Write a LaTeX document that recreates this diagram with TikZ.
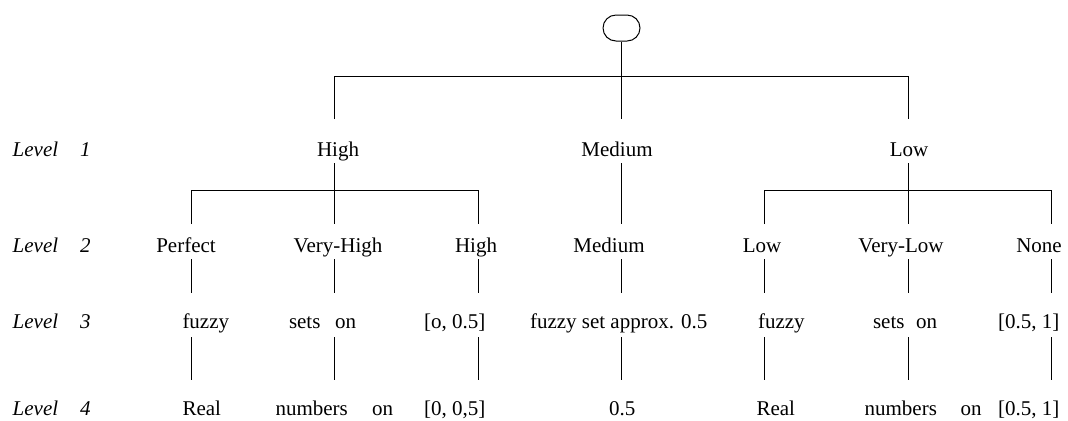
\documentclass[tikz,border=0pt]{standalone}
\usepackage{fontspec}
\setmainfont{Liberation Serif}
\newcommand\fsz{\fontsize{10.5pt}{12pt}\selectfont}
\begin{document}
\begin{tikzpicture}[x=0.5pt,y=-0.5pt,
  conn/.style={line width=0.5pt,draw=black},
  txt/.style={inner sep=0pt,outer sep=0pt,font=\fsz,anchor=base},
  txtw/.style={txt,anchor=base west},
  lvl/.style={inner sep=0pt,outer sep=0pt,font=\fsz\itshape,anchor=base west},
  ra/.style={text height=18.5pt,text depth=3.5pt},
  rb/.style={text height=14pt,text depth=3.5pt},
  rc/.style={text height=17.5pt,text depth=4.5pt},
  rd/.style={text height=17.5pt,text depth=0pt},
  rootbox/.style={draw,line width=0.5pt,rounded corners=6.5pt,minimum width=18.5pt,minimum height=13pt,inner sep=0pt}]
\useasboundingbox (0,0) rectangle (1068,420);
% columns and bars
\coordinate (cP) at (191.5,0);
\coordinate (cH) at (334.5,0);
\coordinate (cHb) at (478,0);
\coordinate (cM) at (621.5,0);
\coordinate (cLb) at (764,0);
\coordinate (cL) at (908,0);
\coordinate (cN) at (1051,0);
\coordinate (bar0) at (0,76);
\coordinate (bar1) at (0,190);
% root
\node[rootbox] (root) at (621.5,28) {};
% level labels
\node[lvl] (lv1) at (12.7,156) {Level\hspace{1.05em}1};
\node[lvl] (lv2) at (12.7,252) {Level\hspace{1.05em}2};
\node[lvl] (lv3) at (12.7,328) {Level\hspace{1.05em}3};
\node[lvl] (lv4) at (12.7,415) {Level\hspace{1.05em}4};
% level 1
\node[txt,ra] (h1) at (338,156) {High};
\node[txt,ra] (m1) at (617,156) {Medium};
\node[txt,ra] (l1) at (909,156) {Low};
% level 2
\node[txt,rb] (p2) at (186,252) {Perfect};
\node[txt,rb] (vh2) at (338,252) {Very-High};
\node[txt,rb] (h2) at (476,252) {High};
\node[txt,rb] (m2) at (609,252) {Medium};
\node[txt,rb] (lo2) at (762,252) {Low};
\node[txt,rb] (vl2) at (901,252) {Very-Low};
\node[txt,rb] (n2) at (1039,252) {None};
% level 3
\node[txtw,rc] (fa3) at (182.5,328) {fuzzy};
\node[txtw,rc] (sa3) at (289,328) {sets\hspace{0.7em}on};
\node[txtw,rc] (ia3) at (424,328) {[o, 0.5]};
\node[txtw,rc] (ap3) at (530,328) {fuzzy set approx. 0.5};
\node[txtw,rc] (fb3) at (758,328) {fuzzy};
\node[txtw,rc] (sb3) at (873,328) {sets\hspace{0.55em}on};
\node[txtw,rc] (ib3) at (998,328) {[0.5, 1]};
% level 4
\node[txtw,rd] (ra4) at (182.5,415) {Real};
\node[txtw,rd] (na4) at (275.5,415) {numbers};
\node[txtw,rd] (oa4) at (372,415) {on};
\node[txtw,rd] (ia4) at (424,415) {[0, 0,5]};
\node[txtw,rd] (hf4) at (609,415) {0.5};
\node[txtw,rd] (rb4) at (756.5,415) {Real};
\node[txtw,rd] (nb4) at (864.6,415) {numbers};
\node[txtw,rd] (ob4) at (960.7,415) {on};
\node[txtw,rd] (ib4) at (998,415) {[0.5, 1]};
% connectors: root to level 1
\draw[conn] (root.south) -- (m1.north -| cM);
\draw[conn] (h1.north -| cH) -- (cH |- bar0) -- (cL |- bar0) -- (l1.north -| cL);
% level 1 to level 2
\draw[conn] (h1.south -| cH) -- (vh2.north -| cH);
\draw[conn] (p2.north -| cP) -- (cP |- bar1) -- (cHb |- bar1) -- (h2.north -| cHb);
\draw[conn] (m1.south -| cM) -- (m2.north -| cM);
\draw[conn] (l1.south -| cL) -- (vl2.north -| cL);
\draw[conn] (lo2.north -| cLb) -- (cLb |- bar1) -- (cN |- bar1) -- (n2.north -| cN);
% level 2 to level 3
\draw[conn] (p2.south -| cP) -- (fa3.north -| cP);
\draw[conn] (vh2.south -| cH) -- (sa3.north -| cH);
\draw[conn] (h2.south -| cHb) -- (ia3.north -| cHb);
\draw[conn] (m2.south -| cM) -- (ap3.north -| cM);
\draw[conn] (lo2.south -| cLb) -- (fb3.north -| cLb);
\draw[conn] (vl2.south -| cL) -- (sb3.north -| cL);
\draw[conn] (n2.south -| cN) -- (ib3.north -| cN);
% level 3 to level 4
\draw[conn] (fa3.south -| cP) -- (ra4.north -| cP);
\draw[conn] (sa3.south -| cH) -- (na4.north -| cH);
\draw[conn] (ia3.south -| cHb) -- (ia4.north -| cHb);
\draw[conn] (ap3.south -| cM) -- (hf4.north -| cM);
\draw[conn] (fb3.south -| cLb) -- (rb4.north -| cLb);
\draw[conn] (sb3.south -| cL) -- (nb4.north -| cL);
\draw[conn] (ib3.south -| cN) -- (ib4.north -| cN);
\end{tikzpicture}
\end{document}
